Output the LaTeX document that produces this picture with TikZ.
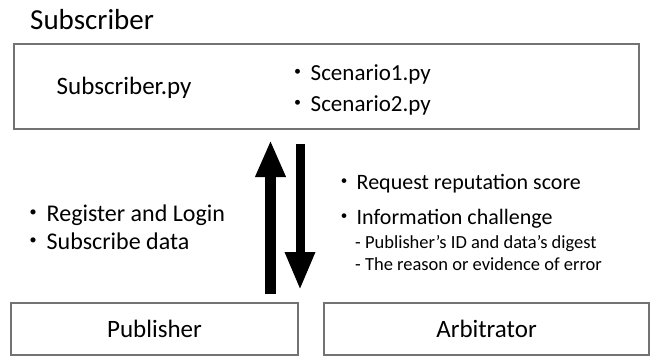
\documentclass[tikz,border=0pt]{standalone}
\usepackage{fontspec}
\setmainfont{Carlito}
\newfontfamily\cjk{Noto Sans CJK JP}
\usetikzlibrary{arrows.meta}

% bullet mark followed by a small gap
\newcommand{\bulmark}{{\cjk ・}\kern1.5pt}
\newcommand{\fs}[1]{\fontsize{#1}{#1}\selectfont}

\tikzset{
  box/.style={draw=black!55, line width=1.4pt, fill=white},
  txt/.style={inner sep=0pt, anchor=base west, text=black},
  bigarrow/.style={line width=#1, draw=black},
}

\begin{document}
\begin{tikzpicture}[x=1pt,y=-1pt]
  \useasboundingbox (0,0) rectangle (652,356);

  % title
  \node[txt, font=\fs{29}] (title) at (30,29) {Subscriber};

  % subscriber box and contents
  \draw[box] (14,44) rectangle (639,129);
  \node[txt, font=\fs{25}] (subpy) at (56.5,94.3) {Subscriber.py};
  \node[txt, font=\fs{23}] (sc1) at (286,80) {\bulmark Scenario1.py};
  \node[txt, font=\fs{23}] (sc2) at (286,111) {\bulmark Scenario2.py};

  % bottom boxes
  \node[box, minimum width=287pt, minimum height=52pt, font=\fs{25}, inner sep=0pt] (pub) at (154.5,329) {Publisher};
  \node[box, minimum width=325pt, minimum height=52pt, font=\fs{25}, inner sep=0pt] (arb) at (486.5,329) {Arbitrator};

  % arrow end points
  \coordinate (upS) at (270.5,294);
  \coordinate (upE) at (270.5,140);
  \coordinate (dnS) at (300,144);
  \coordinate (dnE) at (300,290);
  \draw[bigarrow=11pt, -{Triangle[length=37pt,width=28pt]}] (upS) -- (upE);
  \draw[bigarrow=9pt, -{Triangle[length=38pt,width=28pt]}] (dnS) -- (dnE);

  % left labels
  \node[txt, font=\fs{24}] (reg) at (21,221) {\bulmark Register and Login};
  \node[txt, font=\fs{24}] (sub) at (21,249) {\bulmark Subscribe data};

  % right labels
  \node[txt, font=\fs{22}] (req) at (333,189.3) {\bulmark Request reputation score};
  \node[txt, font=\fs{22}] (info) at (333,224.3) {\bulmark Information challenge};
  \node[txt, font=\fs{18.5}] (d1) at (355,248.3) {- Publisher’s ID and data’s digest};
  \node[txt, font=\fs{18.5}] (d2) at (355,270) {- The reason or evidence of error};
\end{tikzpicture}
\end{document}
